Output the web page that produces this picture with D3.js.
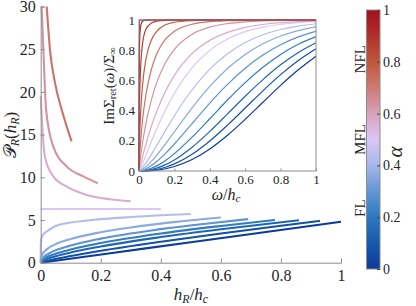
<!DOCTYPE html>
<html>
<head>
<meta charset="utf-8">
<script src="https://cdn.jsdelivr.net/npm/d3@7"></script>
<style>
  body { margin: 0; background: #fff; }
  svg text { font-family: "Liberation Serif", "DejaVu Serif", serif; fill: #262626; }
</style>
</head>
<body>
<div id="plot"></div>
<script>
// colour map (alpha -> colour)
const cmapStops = [0, 0.1, 0.2, 0.3, 0.4, 0.5, 0.6, 0.7, 0.8, 0.9, 1];
const cmapColors = ["#0b3b9b", "#1759ad", "#2a78c0", "#6396d6", "#a3b8ea", "#dcc6f5",
                    "#d9a2bb", "#cf7a74", "#c0563c", "#b0302c", "#a50f1e"];
const cbTicks = [0, 0.2, 0.4, 0.6, 0.8, 1];
const cbLabels = [["NFL", 0.81], ["MFL", 0.5], ["FL", 0.235]];

// main panel: P_R(h_R) for each alpha
const mainAlpha = [0, 0.07, 0.14, 0.21, 0.29, 0.36, 0.43, 0.5, 0.57, 0.64, 0.72];
const mainCurves = [
  [[0,0],[0.25,1.2],[0.5,2.4],[0.75,3.6],[1,4.8]],
  [[0,0],[0.01,0.12],[0.05,0.45],[0.1,0.78],[0.2,1.39],[0.4,2.45],[0.6,3.42],[0.8,4.33],[0.93,4.9]],
  [[0,0],[0.005,0.17],[0.02,0.42],[0.05,0.76],[0.1,1.2],[0.2,1.9],[0.4,3.0],[0.6,3.92],[0.86,4.97]],
  [[0,0],[0.002,0.17],[0.01,0.42],[0.05,1.04],[0.1,1.55],[0.2,2.3],[0.4,3.42],[0.6,4.3],[0.78,5.0]],
  [[0,0],[0.001,0.22],[0.01,0.67],[0.03,1.13],[0.1,2.0],[0.2,2.82],[0.4,3.93],[0.55,4.57],[0.69,5.1]],
  [[0,0],[0.0005,0.41],[0.005,0.95],[0.02,1.56],[0.05,2.17],[0.1,2.78],[0.2,3.57],[0.3,4.13],[0.45,4.78],[0.6,5.3]],
  [[0,0],[0.0002,1.8],[0.001,2.5],[0.003,2.95],[0.007,3.25],[0.02,3.65],[0.05,4.3],[0.1,4.7],[0.2,5.1],[0.3,5.35],[0.4,5.55],[0.5,5.7]],
  [[0,6.28],[0.4,6.28]],
  [[0,19.5],[0.0067,15.2],[0.014,12.4],[0.042,10.1],[0.087,8.9],[0.153,7.94],[0.231,7.43],[0.3,7.2]],
  [[0.003,30],[0.009,24.9],[0.018,17.9],[0.042,13.6],[0.087,11.25],[0.142,10.1],[0.19,9.3]],
  [[0.02,30],[0.031,24.9],[0.048,21.0],[0.07,17.9],[0.087,15.9],[0.103,14.2]]
];
const mainXTicks = [0, 0.2, 0.4, 0.6, 0.8, 1];
const mainYTicks = [0, 5, 10, 15, 20, 25, 30];

// inset: Im Sigma_ret(omega)/Sigma_inf
const omega = [0, 0.002, 0.005, 0.01, 0.02, 0.04, 0.07, 0.1, 0.15, 0.2, 0.3, 0.4, 0.5, 0.6, 0.7, 0.8, 0.9, 1];
const insetAlpha = [0, 0.071, 0.143, 0.214, 0.286, 0.357, 0.429, 0.5, 0.571, 0.643, 0.714, 0.786, 0.857, 0.929, 1];
const insetValues = [
  [0,0,0,0,0,0.001,0.002,0.006,0.015,0.03,0.076,0.146,0.237,0.342,0.455,0.567,0.67,0.76],
  [0,0,0,0,0,0.001,0.005,0.01,0.025,0.047,0.111,0.199,0.304,0.417,0.531,0.638,0.732,0.81],
  [0,0,0,0,0.001,0.003,0.009,0.019,0.042,0.073,0.157,0.262,0.378,0.495,0.605,0.703,0.785,0.85],
  [0,0,0,0.001,0.002,0.007,0.018,0.034,0.07,0.115,0.224,0.346,0.47,0.585,0.687,0.772,0.839,0.89],
  [0,0,0.001,0.002,0.005,0.015,0.036,0.063,0.117,0.179,0.314,0.45,0.574,0.681,0.768,0.836,0.888,0.925],
  [0,0,0.001,0.004,0.011,0.029,0.064,0.104,0.18,0.26,0.418,0.56,0.679,0.772,0.843,0.894,0.93,0.955],
  [0,0.001,0.004,0.009,0.023,0.055,0.11,0.169,0.269,0.366,0.538,0.675,0.777,0.851,0.902,0.937,0.96,0.975],
  [0,0.004,0.01,0.023,0.05,0.107,0.195,0.278,0.405,0.515,0.684,0.799,0.874,0.923,0.953,0.972,0.983,0.99],
  [0,0.01,0.025,0.049,0.095,0.182,0.296,0.394,0.529,0.633,0.778,0.865,0.918,0.951,0.97,0.982,0.989,0.993],
  [0,0.026,0.058,0.105,0.187,0.32,0.471,0.585,0.718,0.806,0.906,0.953,0.976,0.988,0.994,0.997,0.998,0.999],
  [0,0.063,0.127,0.21,0.337,0.511,0.674,0.775,0.873,0.925,0.972,0.989,0.995,0.998,0.999,1,1,1],
  [0,0.154,0.273,0.404,0.569,0.745,0.868,0.925,0.968,0.985,0.996,0.999,1,1,1,1,1,1],
  [0,0.373,0.554,0.706,0.844,0.94,0.98,0.992,0.998,0.999,1,1,1,1,1,1,1,1],
  [0,0.776,0.906,0.965,0.991,0.999,1,1,1,1,1,1,1,1,1,1,1,1],
  [0,1,1,1,1,1,1,1,1,1,1,1,1,1,1,1,1,1]
];
const insetTicks = [0, 0.2, 0.4, 0.6, 0.8, 1];

const color = d3.scaleLinear().domain(cmapStops).range(cmapColors).interpolate(d3.interpolateRgb);
const fmt = d3.format("~g");
const serif = "'Liberation Serif', 'DejaVu Serif', serif";

const svg = d3.select("#plot").append("svg")
  .attr("width", 416)
  .attr("height", 306);

// write math-ish labels: parts of [text, style]  (i = italic, s = subscript)
function mathText(g, parts, size) {
  const t = g.append("text").attr("font-size", size).attr("text-anchor", "middle");
  parts.forEach(([s, st]) => {
    const sp = t.append("tspan").text(s);
    if (st.includes("i")) sp.attr("font-style", "italic");
    if (st.includes("s")) sp.attr("font-size", size * 0.7).attr("baseline-shift", "-22%");
  });
  return t;
}

function styleAxis(g, size, keepDomain) {
  g.attr("font-family", null);
  if (keepDomain) g.select(".domain").attr("stroke", "#8c8c8c");
  else g.select(".domain").remove();
  g.selectAll(".tick line").attr("stroke", "#8c8c8c");
  g.selectAll(".tick text")
    .attr("fill", "#262626")
    .style("font-family", serif)
    .style("font-size", size + "px");
}

// ---- main panel
const x = d3.scaleLinear().domain([0, 1]).range([40.7, 341]);
const y = d3.scaleLinear().domain([0, 30]).range([262.7, 6.5]);

const line = d3.line()
  .x(d => x(d[0]))
  .y(d => y(d[1]))
  .curve(d3.curveMonotoneX);

svg.append("g").selectAll("path")
  .data(mainCurves)
  .enter().append("path")
  .attr("d", line)
  .attr("fill", "none")
  .attr("stroke", (d, i) => color(mainAlpha[i]))
  .attr("stroke-width", 2.1);

const gx = svg.append("g")
  .attr("transform", `translate(0,${y(0)})`)
  .call(d3.axisBottom(x).tickValues(mainXTicks).tickSize(-4).tickPadding(7).tickFormat(fmt));
const gy = svg.append("g")
  .attr("transform", `translate(${x(0)},0)`)
  .call(d3.axisLeft(y).tickValues(mainYTicks).tickSize(-4).tickPadding(5).tickFormat(fmt));
styleAxis(gx, 16, true);
styleAxis(gy, 16, true);

mathText(svg.append("g").attr("transform", "translate(191,300)"),
  [["h", "i"], ["R", "si"], ["/", ""], ["h", "i"], ["c", "si"]], 17);
mathText(svg.append("g").attr("transform", "translate(16,135) rotate(-90)"),
  [["\u{1D4AB}", ""], ["R", "si"], ["(", ""], ["h", "i"], ["R", "si"], [")", ""]], 17);

// ---- inset
const ix = d3.scaleLinear().domain([0, 1]).range([139, 316]);
const iy = d3.scaleLinear().domain([0, 1]).range([171, 20]);

svg.append("rect")
  .attr("x", ix(0)).attr("y", iy(1))
  .attr("width", ix(1) - ix(0)).attr("height", iy(0) - iy(1))
  .attr("fill", "#fff");

const iline = d3.line()
  .x((d, j) => ix(omega[j]))
  .y(d => iy(d))
  .curve(d3.curveMonotoneX);

svg.append("g").selectAll("path")
  .data(insetValues)
  .enter().append("path")
  .attr("d", iline)
  .attr("fill", "none")
  .attr("stroke", (d, i) => color(insetAlpha[i]))
  .attr("stroke-width", 1.2);

const igx = svg.append("g")
  .attr("transform", `translate(0,${iy(0)})`)
  .call(d3.axisBottom(ix).tickValues(insetTicks).tickSize(-2.5).tickPadding(4).tickFormat(fmt));
const igy = svg.append("g")
  .attr("transform", `translate(${ix(0)},0)`)
  .call(d3.axisLeft(iy).tickValues(insetTicks).tickSize(-2.5).tickPadding(4).tickFormat(fmt));
styleAxis(igx, 13, false);
styleAxis(igy, 13, false);
svg.append("rect")
  .attr("x", ix(0)).attr("y", iy(1))
  .attr("width", ix(1) - ix(0)).attr("height", iy(0) - iy(1))
  .attr("fill", "none").attr("stroke", "#8c8c8c");

mathText(svg.append("g").attr("transform", "translate(226,200)"),
  [["\u03C9", "i"], ["/", ""], ["h", "i"], ["c", "si"]], 16);
mathText(svg.append("g").attr("transform", "translate(114,86) rotate(-90)"),
  [["Im\u03A3", ""], ["ret", "s"], ["(", ""], ["\u03C9", "i"], [")/\u03A3", ""], ["\u221E", "s"]], 15);

// ---- colorbar
const cb = d3.scaleLinear().domain([0, 1]).range([269, 10]);
const grad = svg.append("defs").append("linearGradient")
  .attr("id", "cmap").attr("x1", "0%").attr("x2", "0%").attr("y1", "100%").attr("y2", "0%");
cmapStops.forEach((s, i) => {
  grad.append("stop").attr("offset", `${s * 100}%`).attr("stop-color", cmapColors[i]);
});
svg.append("rect")
  .attr("x", 366.5).attr("y", cb(1))
  .attr("width", 13.5).attr("height", cb(0) - cb(1))
  .attr("fill", "url(#cmap)").attr("stroke", "#8c8c8c");
const gcb = svg.append("g")
  .attr("transform", "translate(380,0)")
  .call(d3.axisRight(cb).tickValues(cbTicks).tickSize(-3).tickPadding(3).tickFormat(fmt));
styleAxis(gcb, 14, false);
gcb.selectAll(".tick line").attr("stroke", "#444");

svg.append("g").selectAll("text")
  .data(cbLabels)
  .enter().append("text")
  .attr("transform", d => `translate(365,${cb(d[1])}) rotate(-90)`)
  .attr("text-anchor", "middle")
  .attr("font-size", 15)
  .text(d => d[0]);

svg.append("text")
  .attr("transform", "translate(402,152) rotate(-90)")
  .attr("text-anchor", "middle")
  .attr("font-size", 21)
  .attr("font-style", "italic")
  .text("\u03B1");
</script>
</body>
</html>
